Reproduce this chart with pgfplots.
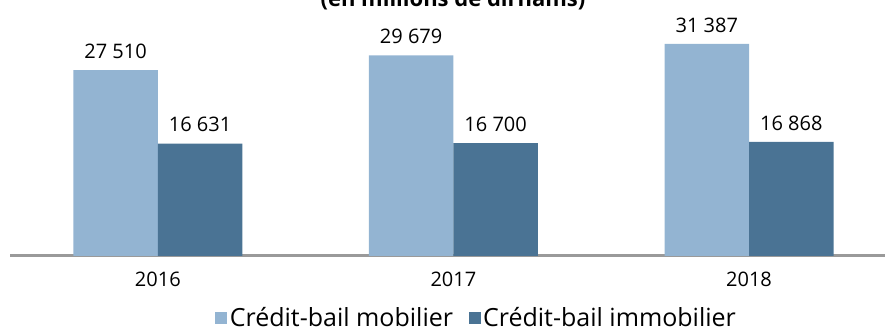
\documentclass[border=0pt]{standalone}
\usepackage{fontspec}
\setmainfont{Open Sans}
\usepackage{pgfplots}
\pgfplotsset{compat=1.18}
\definecolor{lightb}{HTML}{93B4D2}
\definecolor{darkb}{HTML}{4A7394}
\definecolor{axgray}{HTML}{9A9A9A}
\begin{document}
\begin{tikzpicture}
\path[use as bounding box] (-10pt,-75pt) rectangle (875pt,256pt);
\draw[axgray, line width=3pt] (0pt,0.2pt) -- (875pt,0.2pt);
\begin{axis}[
  at={(0,0)}, anchor=south west,
  scale only axis, width=875pt, height=256pt,
  xmin=-0.5, xmax=2.46, ymin=0, ymax=37870,
  ybar=0pt, bar width=84.5pt,
  axis x line*=bottom, axis y line=none,
  axis line style={draw=none},
  xtick={0,1,2}, xticklabels={2016,2017,2018},
  xtick style={draw=none},
  xticklabel style={font=\fontsize{20}{22}\selectfont, yshift=-8pt},
  /pgf/number format/assume math mode=true,
  nodes near coords={\pgfmathprintnumber[1000 sep={\ }]{\pgfplotspointmeta}},
  every node near coord/.append style={font=\fontsize{20}{22}\selectfont, black, yshift=8pt},
  legend columns=2,
  legend style={draw=none, fill=none, at={(0.533,-0.24)}, anchor=center,
    font=\fontsize{25}{27}\selectfont, column sep=1pt, inner sep=0pt,
    nodes={inner sep=1.5pt},
    /tikz/every even column/.append style={column sep=14pt}},
  legend image code/.code={\fill[#1] (0pt,-7pt) rectangle (12pt,5pt);},
  clip=false,
]
\addplot[fill=lightb, draw=none] coordinates {(0,27510) (1,29679) (2,31387)};
\addplot[fill=darkb, draw=none] coordinates {(0,16631) (1,16700) (2,16868)};
\legend{Crédit-bail mobilier, Crédit-bail immobilier}
\end{axis}
\node[anchor=base, font=\bfseries\fontsize{22}{24}\selectfont] at (443pt,249pt) {(en millions de dirhams)};
\end{tikzpicture}
\end{document}
